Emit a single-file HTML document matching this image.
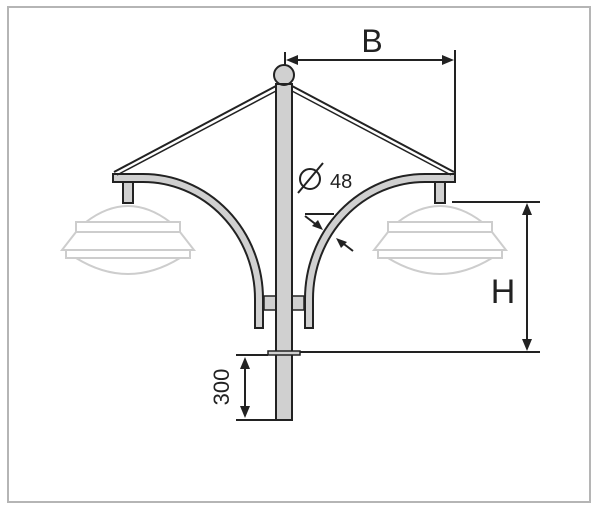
<!DOCTYPE html>
<html><head><style>
html,body{margin:0;padding:0;background:#fff;width:600px;height:511px;overflow:hidden}
</style></head><body>
<svg width="600" height="511" viewBox="0 0 600 511" xmlns="http://www.w3.org/2000/svg" font-family="Liberation Sans, sans-serif">
<rect x="8" y="7" width="582" height="495" fill="#fff" stroke="#b5b5b5" stroke-width="2"/>
<defs>
<g id="lamp" fill="none" stroke="#cdcdcd" stroke-width="2">
  <path d="M-42,222 Q0,190 42,222"/>
  <rect x="-52" y="222" width="104" height="10"/>
  <path d="M-52,232 L-66,250 L66,250 L52,232"/>
  <rect x="-62" y="250" width="124" height="8"/>
  <path d="M-52,258 Q0,290 52,258"/>
</g>
<g id="arm">
  <path d="M113,174 L143,174 A120,125 0 0 1 263,299 L263,328 L255,328 L255,299 A112,117 0 0 0 143,182 L113,182 Z" fill="#d0d0d0" stroke="#222" stroke-width="2"/>
  <rect x="123" y="182" width="10" height="21" fill="#d0d0d0" stroke="#222" stroke-width="2"/>
  <rect x="264" y="296" width="12" height="14" fill="#d0d0d0" stroke="#222" stroke-width="1.5"/>
  <line x1="114" y1="172" x2="276" y2="86" stroke="#222" stroke-width="2"/>
  <line x1="117" y1="175" x2="276" y2="91" stroke="#222" stroke-width="1.5"/>
  <use href="#lamp" transform="translate(128,0)"/>
</g>
</defs>
<use href="#arm"/>
<use href="#arm" transform="translate(568,0) scale(-1,1)"/>
<!-- pole -->
<rect x="276" y="84" width="16" height="336" fill="#d0d0d0" stroke="#222" stroke-width="2"/>
<circle cx="284" cy="75" r="10" fill="#d0d0d0" stroke="#222" stroke-width="2"/>
<line x1="276" y1="84" x2="292" y2="84" stroke="#222" stroke-width="2"/>
<rect x="268" y="351" width="32" height="4" fill="#d0d0d0" stroke="#222" stroke-width="1.5"/>
<!-- B dimension -->
<line x1="285" y1="52" x2="285" y2="66" stroke="#222" stroke-width="2"/>
<line x1="455" y1="50" x2="455" y2="175" stroke="#222" stroke-width="2"/>
<line x1="290" y1="60" x2="450" y2="60" stroke="#222" stroke-width="2"/>
<path d="M286,60 L298,55 L298,65 Z M454,60 L442,55 L442,65 Z" fill="#222"/>
<text x="372" y="52" font-size="32" text-anchor="middle" fill="#222">B</text>
<!-- Ø48 -->
<circle cx="310" cy="179" r="10" fill="none" stroke="#222" stroke-width="2"/>
<line x1="298" y1="193" x2="323" y2="163" stroke="#222" stroke-width="2"/>
<text x="330" y="188" font-size="20" fill="#222">48</text>
<!-- thickness -->
<line x1="305" y1="214" x2="334" y2="214" stroke="#222" stroke-width="2"/>
<line x1="305" y1="216" x2="318" y2="226" stroke="#222" stroke-width="2"/>
<path d="M323,230 L312,226 L318,220 Z" fill="#222"/>
<line x1="353" y1="251" x2="340" y2="241" stroke="#222" stroke-width="2"/>
<path d="M336,238 L347,242 L341,248 Z" fill="#222"/>
<!-- H dimension -->
<line x1="452" y1="202" x2="540" y2="202" stroke="#222" stroke-width="2"/>
<line x1="300" y1="352" x2="540" y2="352" stroke="#222" stroke-width="2"/>
<line x1="527" y1="208" x2="527" y2="346" stroke="#222" stroke-width="2"/>
<path d="M527,203 L522,215 L532,215 Z M527,351 L522,339 L532,339 Z" fill="#222"/>
<text x="503" y="303" font-size="34" text-anchor="middle" fill="#222">H</text>
<!-- 300 dimension -->
<line x1="236" y1="355" x2="268" y2="355" stroke="#222" stroke-width="2"/>
<line x1="236" y1="420" x2="276" y2="420" stroke="#222" stroke-width="2"/>
<line x1="245" y1="361" x2="245" y2="414" stroke="#222" stroke-width="2"/>
<path d="M245,357 L240,369 L250,369 Z M245,418 L240,406 L250,406 Z" fill="#222"/>
<text transform="translate(229,387) rotate(-90)" font-size="22" text-anchor="middle" fill="#222">300</text>
</svg>
</body></html>
